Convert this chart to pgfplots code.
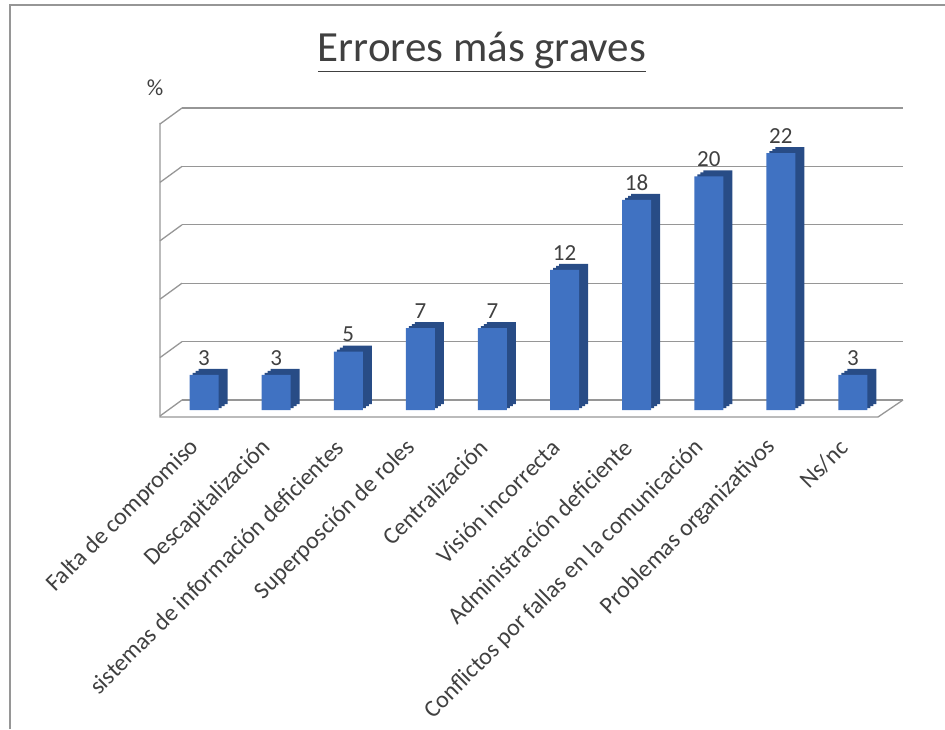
\documentclass[border=0pt]{standalone}
\usepackage{pgfplots}
\pgfplotsset{compat=1.18}
\usepackage{fontspec}
\setmainfont{Carlito}

\definecolor{barfront}{RGB}{64,114,194}
\definecolor{barside}{RGB}{40,76,134}
\definecolor{gridgray}{RGB}{150,150,150}
\definecolor{txt}{RGB}{64,64,64}

\pgfplotstableread{
x val
0 3
1 3
2 5
3 7
4 7
5 12
6 18
7 20
8 22
9 3
}\errores

\begin{document}
\begin{tikzpicture}
\useasboundingbox (0pt,0pt) rectangle (945pt,729pt);
% frame of the screenshot
\draw[gridgray, line width=2pt] (10pt,0pt) -- (10pt,724pt) -- (945pt,724pt);
\node[font=\fontsize{43}{48}\selectfont, text=txt, anchor=base] at (482pt,667pt) {\underline{Errores más graves}};
\node[font=\fontsize{23}{26}\selectfont, text=txt] at (155pt,641pt) {\%};

\begin{axis}[
    at={(182pt,329pt)}, anchor=south west,
    scale only axis, width=721pt, height=292pt,
    xmin=-0.5, xmax=9.5, ymin=0, ymax=25,
    axis line style={draw=none}, tick style={draw=none},
    ytick={0,5,...,25}, yticklabels={},
    ymajorgrids, grid style={gridgray, line width=1.3pt},
    xtick={0,...,9},
    xticklabels={Falta de compromiso, Descapitalización,
        sistemas de información deficientes, Superposción de roles,
        Centralización, Visión incorrecta, Administración deficiente,
        Conflictos por fallas en la comunicación, Problemas organizativos, Ns/nc},
    xticklabel style={font=\fontsize{24}{27}\selectfont, text=txt,
        xshift=-22pt, yshift=-43pt, rotate=45, anchor=east, inner sep=1pt},
    clip=false,
    /pgf/number format/assume math mode=true,
]
% darker copies behind give the side and top faces
\addplot[ybar, bar width=29pt, bar shift=0pt, fill=barside, draw=none, xshift=-5pt, yshift=-4pt]
    table[x=x, y=val] {\errores};
\addplot[ybar, bar width=29pt, bar shift=0pt, fill=barside, draw=none, xshift=-8pt, yshift=-6pt]
    table[x=x, y=val] {\errores};
\addplot[ybar, bar width=29pt, bar shift=0pt, fill=barside, draw=none, xshift=-11pt, yshift=-8pt]
    table[x=x, y=val] {\errores};
\addplot[ybar, bar width=29pt, bar shift=0pt, fill=barfront, draw=none, xshift=-14pt, yshift=-10pt,
    nodes near coords, nodes near coords style={font=\fontsize{23}{26}\selectfont, text=txt, yshift=6pt}]
    table[x=x, y=val] {\errores};
\end{axis}

% left wall and floor
\draw[gridgray, line width=1.3pt] (160pt,606pt) -- (160pt,312pt) -- (878pt,312pt) -- (903pt,329pt);
\foreach \yb in {329,387.4,445.8,504.2,562.6,621} {
    \draw[gridgray, line width=1.3pt] (182pt,\yb pt) -- (160pt,\yb pt-16pt);
}
\end{tikzpicture}
\end{document}
